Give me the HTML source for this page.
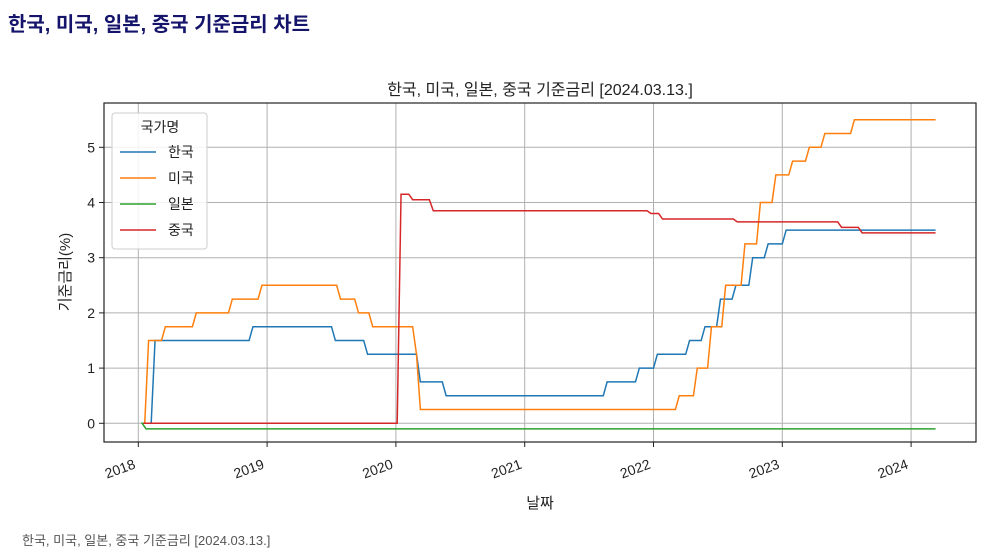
<!DOCTYPE html>
<html><head><meta charset="utf-8">
<style>
body{margin:0;width:990px;height:560px;background:#fff;overflow:hidden;font-family:"Liberation Sans","Noto Sans CJK KR",sans-serif;}
#page-title{position:absolute;left:8px;top:8px;font-size:20px;font-weight:bold;color:#14146b;margin:0;}
#caption{position:absolute;left:22px;top:530px;font-size:13px;color:#555;}
svg{position:absolute;left:0;top:0;}
svg text{font-family:"Liberation Sans","Noto Sans CJK KR",sans-serif;fill:#222;}
</style></head><body>
<h1 id="page-title">한국, 미국, 일본, 중국 기준금리 차트</h1>
<svg id="chart" width="990" height="560"></svg>
<div id="caption">한국, 미국, 일본, 중국 기준금리 [2024.03.13.]</div>
<script>
const xTicks = [2018,2019,2020,2021,2022,2023,2024];
const yTicks = [0,1,2,3,4,5];
const startDate = 2018.04;
const endDate = 2024.19;
const seriesNames = ["한국","미국","일본","중국"];
const seriesColors = ["#1f77b4","#ff7f0e","#2ca02c","#d62728"];
const krDates = [2018.04,2018.13,2018.89,2019.53,2019.78,2020.19,2020.39,2021.64,2021.89,2022.03,2022.28,2022.40,2022.52,2022.64,2022.77,2022.89,2023.03];
const krVals  = [0,1.5,1.75,1.5,1.25,0.75,0.5,0.75,1.0,1.25,1.5,1.75,2.25,2.5,3.0,3.25,3.5];
const usDates = [2018.04,2018.08,2018.21,2018.45,2018.73,2018.96,2019.57,2019.71,2019.82,2020.16,2020.19,2022.20,2022.34,2022.45,2022.56,2022.71,2022.83,2022.95,2023.08,2023.21,2023.33,2023.56];
const usVals  = [0,1.5,1.75,2.0,2.25,2.5,2.25,2.0,1.75,1.25,0.25,0.5,1.0,1.75,2.5,3.25,4.0,4.5,4.75,5.0,5.25,5.5];
const jpDates = [2018.04,2018.06];
const jpVals  = [0,-0.1];
const cnDates = [2018.04,2020.04,2020.13,2020.29,2021.98,2022.07,2022.65,2023.46,2023.62];
const cnVals  = [0,4.15,4.05,3.85,3.8,3.7,3.65,3.55,3.45];

const L=104,R=976,T=103,B=442;
const x=d=>138.3+(d-2018)*128.8;
const y=v=>423.3-v*55.2;
const NS="http://www.w3.org/2000/svg";
const svg=document.getElementById('chart');
function mk(tag,attrs,parent){const e=document.createElementNS(NS,tag);for(const k in attrs)e.setAttribute(k,attrs[k]);(parent||svg).appendChild(e);return e;}

xTicks.forEach(t=>{
  const g=mk('line',{x1:x(t),x2:x(t),y1:T,y2:B,stroke:'#b0b0b0','stroke-width':1});
  
  
  mk('line',{x1:x(t),x2:x(t),y1:B,y2:B+5,stroke:'#222'});
  const tx=mk('text',{x:x(t)-2,y:B+26,'font-size':14,'text-anchor':'end',transform:`rotate(-20 ${x(t)-2} ${B+26})`});
  tx.textContent=t;
  
  
});
yTicks.forEach(t=>{
  const g=mk('line',{x1:L,x2:R,y1:y(t),y2:y(t),stroke:'#b0b0b0','stroke-width':1});
  
  
  mk('line',{x1:L-5,x2:L,y1:y(t),y2:y(t),stroke:'#222'});
  const tx=mk('text',{x:L-9,y:y(t)+5,'font-size':14,'text-anchor':'end'});
  tx.textContent=t;
  
  
});

function stepPath(dates,vals){
  let p=`M${x(dates[0])},${y(vals[0])}`;
  for(let i=1;i<dates.length;i++){
    p+=` L${x(dates[i]-0.03)},${y(vals[i-1])} L${x(dates[i])},${y(vals[i])}`;
  }
  p+=` L${x(endDate)},${y(vals[vals.length-1])}`;
  return p;
}
const allD=[krDates,usDates,jpDates,cnDates], allV=[krVals,usVals,jpVals,cnVals];
const sNames=['series-korea','series-us','series-japan','series-china'];
[2,0,1,3].forEach(i=>{
  const p=mk('path',{d:stepPath(allD[i],allV[i]),fill:'none',stroke:seriesColors[i],'stroke-width':1.5});
  
  
});

const fr=mk('rect',{x:L,y:T,width:R-L,height:B-T,fill:'none',stroke:'#222','stroke-width':1.2});



const ct=mk('text',{x:540,y:95,'font-size':16,'text-anchor':'middle'});
ct.textContent='한국, 미국, 일본, 중국 기준금리 [2024.03.13.]';


const xt=mk('text',{x:540,y:508,'font-size':15,'text-anchor':'middle'});
xt.textContent='날짜';


const yt=mk('text',{x:70,y:272,'font-size':15,'text-anchor':'middle',transform:'rotate(-90 70 272)'});
yt.textContent='기준금리(%)';



const lg=mk('g',{});


mk('rect',{x:112,y:113,width:95,height:136,rx:3,fill:'#fff','fill-opacity':0.85,stroke:'#ccc'},lg);
const lt=mk('text',{x:160,y:132,'font-size':14,'text-anchor':'middle'},lg);
lt.textContent='국가명';


seriesNames.forEach((n,i)=>{
  const yy=152+i*26;
  const e=mk('g',{},lg);
  
  
  mk('line',{x1:120,x2:156,y1:yy,y2:yy,stroke:seriesColors[i],'stroke-width':1.5},e);
  const t=mk('text',{x:168,y:yy+5,'font-size':14},e);
  t.textContent=n;
});
</script>
</body></html>
